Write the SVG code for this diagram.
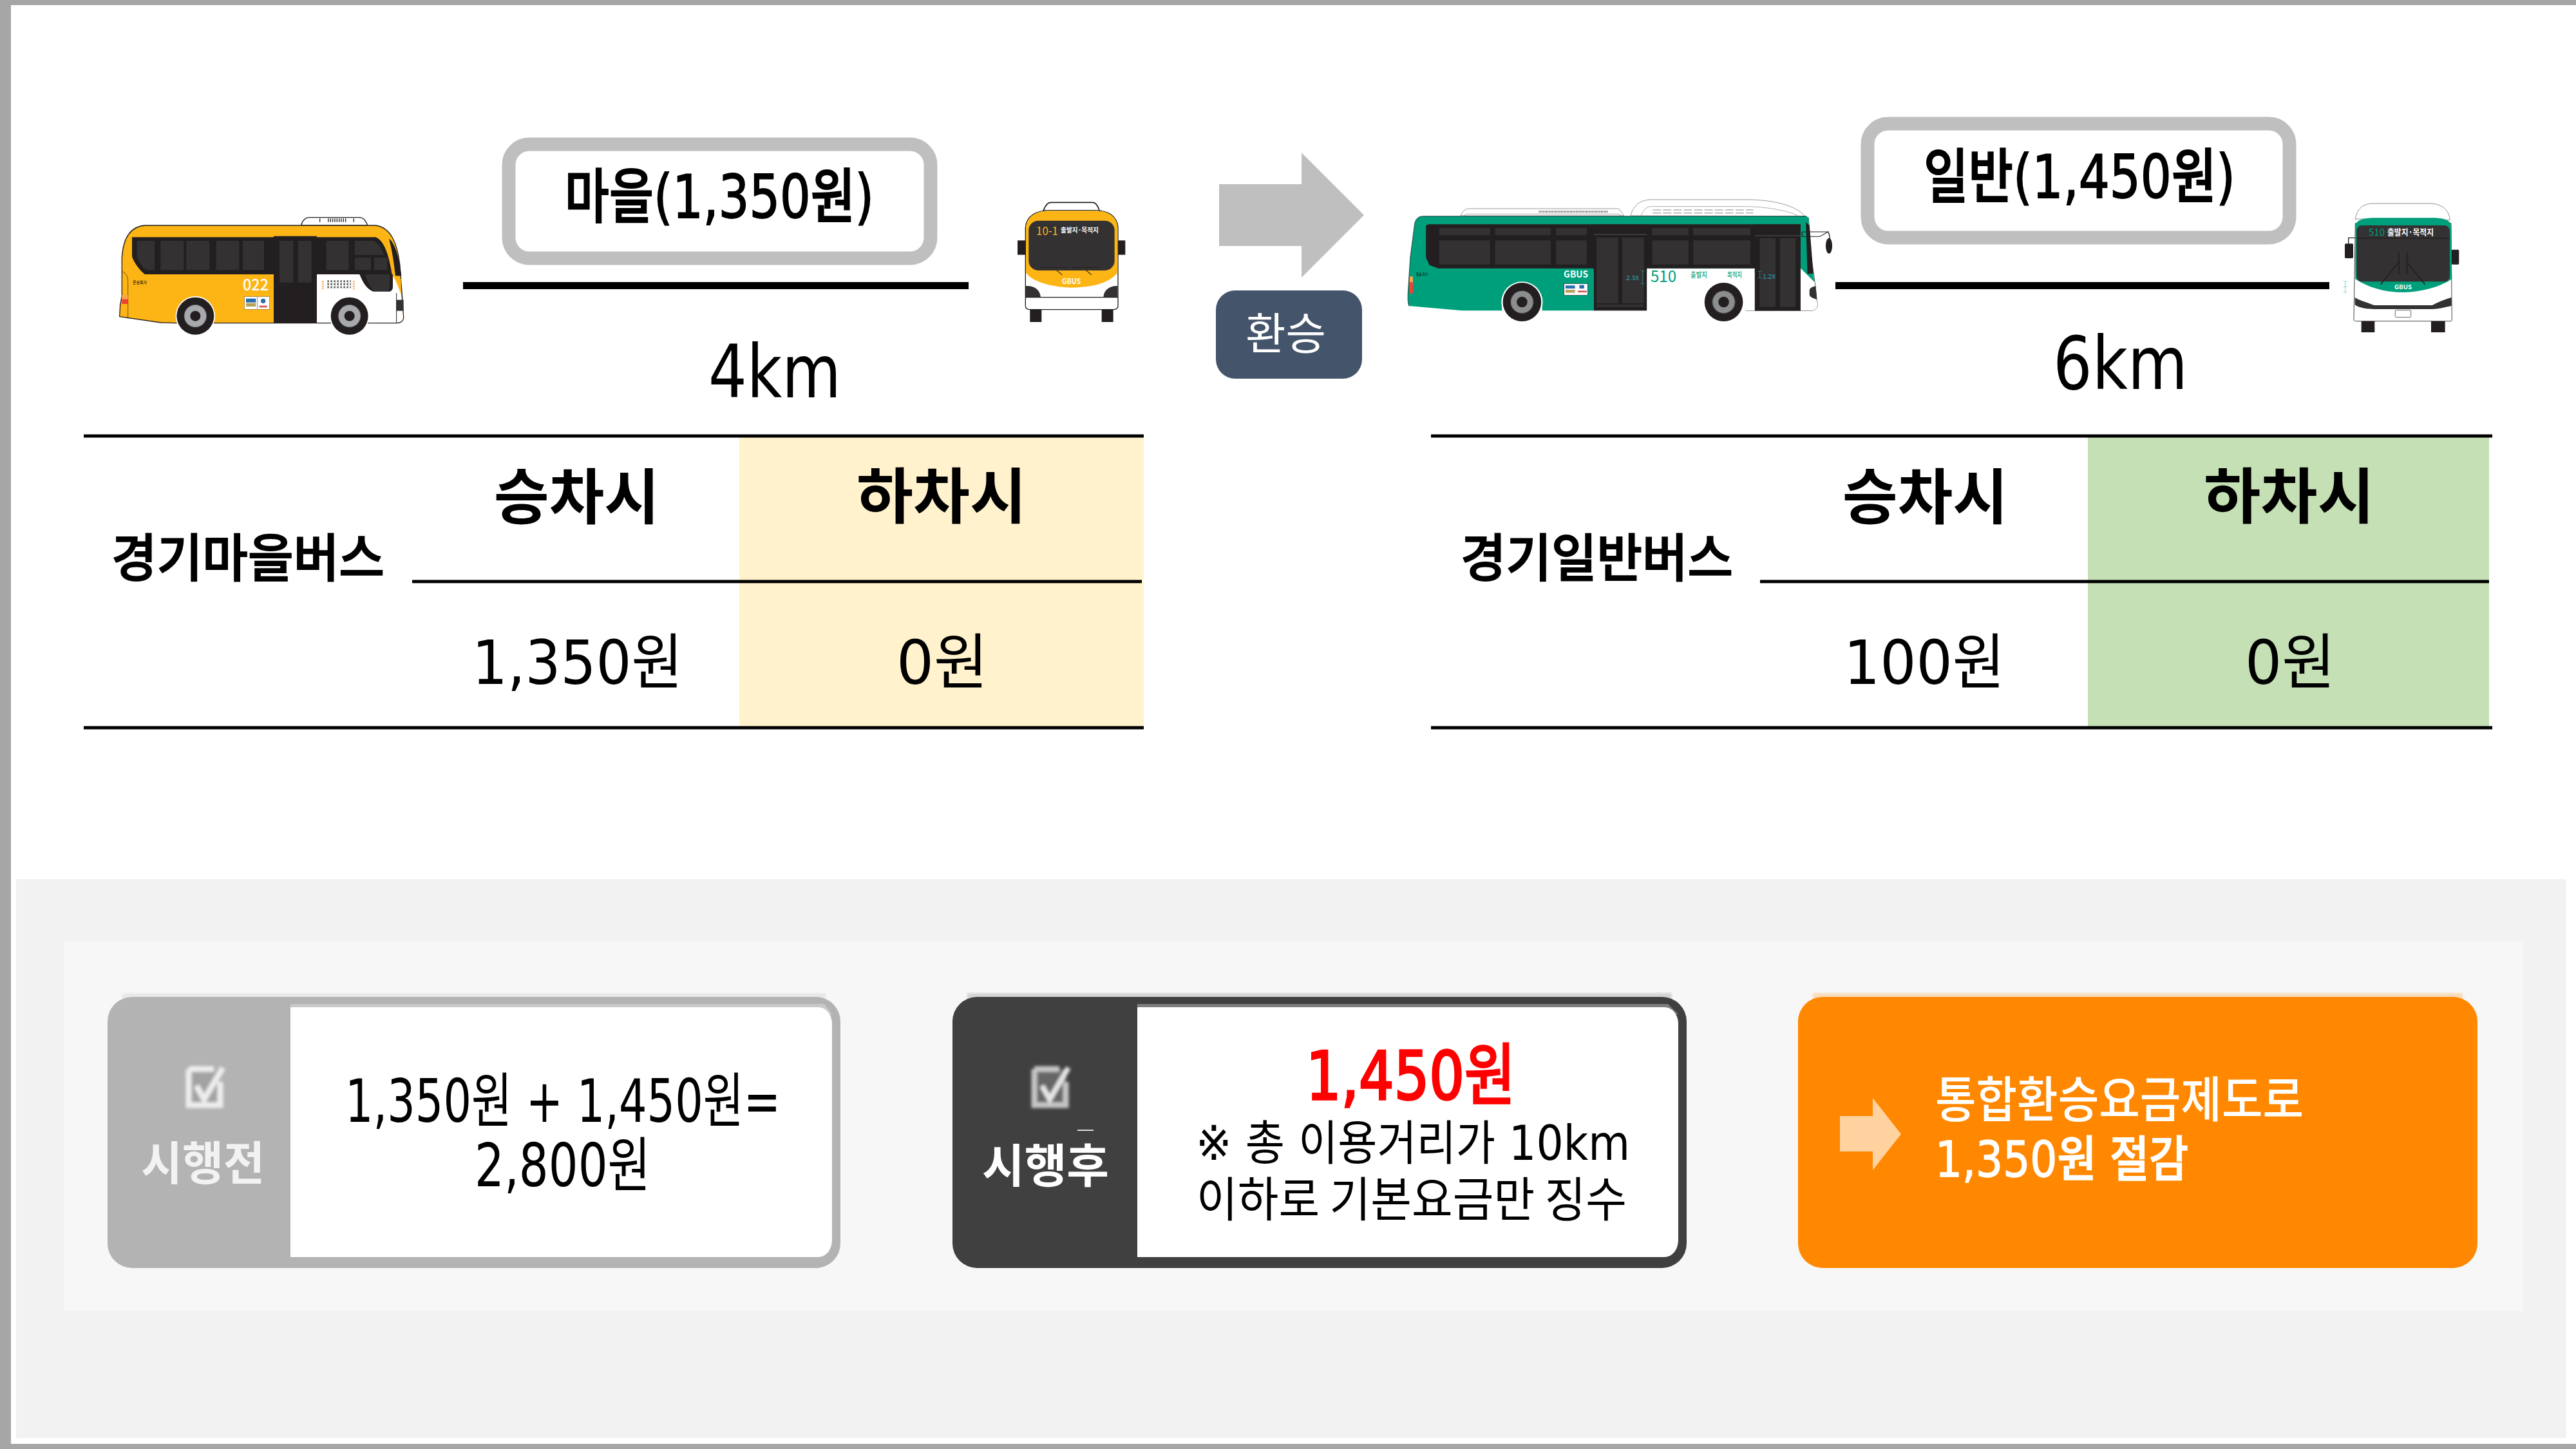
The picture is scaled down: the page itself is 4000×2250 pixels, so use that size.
<svg xmlns="http://www.w3.org/2000/svg" width="4000" height="2250" viewBox="0 0 4000 2250">
<style>
text{font-family:"DejaVu Sans","Noto Sans CJK KR",sans-serif;fill:#000}
.k{font-family:"Noto Sans CJK KR",sans-serif}
.b{font-weight:700}
.m{font-weight:500}
.w{fill:#fff}
.fb{stroke:#000;stroke-width:1.8}
.badge{fill:#fff;stroke:#BFBFBF;stroke-width:21}
.rule{stroke:#000;stroke-width:5;fill:none}
.road{stroke:#000;stroke-width:11;fill:none}
.pane{fill:#333132}
.dark{fill:#231F20}
.o{stroke:#231F20;stroke-width:4;stroke-linejoin:round}
.cy{stroke:#2EA5B5;stroke-width:1.5;fill:none}
</style>
<defs><filter id="soft" x="-20%" y="-20%" width="140%" height="140%"><feGaussianBlur stdDeviation="2"/></filter><filter id="soft2" x="-5%" y="-50%" width="110%" height="200%"><feGaussianBlur stdDeviation="1.500"/></filter></defs>
<rect width="4000" height="2250" fill="#fff"/>
<g id="frame" fill="#A6A6A6"><rect width="4000" height="8"/><rect width="17" height="2250"/><rect y="2242" width="4000" height="8"/></g>
<g id="panel"><rect x="25" y="1365" width="3960" height="868" fill="#F2F2F2"/><rect x="100" y="1462" width="3818" height="574" fill="#F7F7F7"/></g>

<g id="bus-yellow-side" transform="translate(150 300) scale(.33333)">
<path fill="#fff" stroke="#231F20" stroke-width="4" d="M953 150C958 125 975 113 990 113H1225C1245 113 1258 135 1262 150Z"/>
<path d="M1040 118v16M1198 118v16M1080 118v16M1090 118v16M1100 118v16M1110 118v16M1120 118v16M1130 118v16M1140 118v16M1150 118v16M1160 118v16" stroke="#231F20" stroke-width="4"/>
<path class="o" fill="#FDB515" d="M107 575L110 520L118 480V300C125 190 170 152 230 150H1300C1370 160 1400 230 1412 330L1425 500L1430 580C1428 600 1410 605 1395 605H370L300 603L107 575Z"/>
<path fill="#fff" d="M1026 378H1225L1385 385L1418 470L1428 580C1426 598 1410 603 1395 603H1026Z"/>
<path fill="#FDB515" d="M1380 385L1395 385L1418 400V450Z"/>
<rect class="dark" x="825" y="200" width="201" height="405"/>
<path class="dark" d="M165 205H1300C1340 220 1362 290 1376 378H225C200 360 165 310 165 290Z"/>
<path class="dark" d="M1225 378H1380V440C1378 452 1370 458 1360 458H1290C1260 450 1240 415 1225 378Z"/>
<path class="pane" d="M188 222H270V358H232C215 345 188 310 188 290Z"/>
<rect class="pane" x="298" y="222" width="108" height="136"/><rect class="pane" x="418" y="222" width="108" height="136"/>
<rect class="pane" x="557" y="222" width="107" height="136"/><rect class="pane" x="681" y="222" width="99" height="136"/>
<rect class="pane" x="852" y="222" width="64" height="194"/><rect class="pane" x="938" y="222" width="63" height="194"/>
<rect class="pane" x="1070" y="222" width="104" height="136"/>
<path class="pane" d="M1203 222H1290C1315 235 1330 260 1338 288H1203Z"/>
<rect class="pane" x="1203" y="300" width="75" height="58"/><rect class="pane" x="1292" y="300" width="62" height="58"/>
<path class="pane" d="M1250 378H1365V440C1365 450 1358 456 1350 456H1295C1275 445 1262 410 1250 378Z"/>
<path class="dark" d="M1362 212C1385 225 1410 290 1420 385L1392 385C1385 320 1375 260 1362 212Z"/>
<path class="pane" d="M1397 497H1430V548H1397Z"/>
<path d="M1397 465V603" stroke="#231F20" stroke-width="3"/>
<path d="M118 365C135 370 146 385 146 410V585" fill="none" stroke="#231F20" stroke-width="2"/>
<rect x="118" y="474" width="28" height="20" fill="#F9A64A"/><rect x="118" y="494" width="28" height="22" fill="#EF4136"/>
<circle cx="460" cy="572" r="92" fill="#fff"/><circle cx="1178" cy="572" r="92" fill="#fff"/>
<g fill="#231F20"><circle cx="460" cy="572" r="87"/><circle cx="1178" cy="572" r="87"/></g>
<g fill="#A7A9AC" stroke="#58595B" stroke-width="3" stroke-dasharray="12 6"><circle cx="460" cy="572" r="52"/><circle cx="1178" cy="572" r="52"/></g>
<g fill="#231F20"><circle cx="460" cy="572" r="24"/><circle cx="1178" cy="572" r="24"/></g>
<rect x="688" y="481" width="118" height="60" fill="#fff" stroke="#8a6d1d" stroke-width="2"/>
<rect x="696" y="491" width="46" height="18" fill="#2B6CB0"/><rect x="696" y="512" width="46" height="16" fill="#B9A25A"/>
<path d="M749 483V539" stroke="#555" stroke-width="2"/><circle cx="776" cy="502" r="11" fill="#2B6CB0"/><rect x="758" y="524" width="36" height="8" fill="#D9534F"/>
<path d="M1054 408V450M1198 408V450" stroke="#F6B26B" stroke-width="9" stroke-dasharray="5 3"/>
<path d="M1075 410H1185M1075 424H1185M1075 438H1185" stroke="#666" stroke-width="9" stroke-dasharray="8 7"/>
</g>
<text id="t022" class="k m w" x="377" y="451" font-size="25" textLength="40" lengthAdjust="spacingAndGlyphs">022</text>
<text class="k" x="206" y="441" font-size="7" textLength="22" lengthAdjust="spacingAndGlyphs">운송회사</text>

<g id="bus-yellow-front" transform="translate(1560 290) scale(.33333)">
<path fill="#fff" stroke="#231F20" stroke-width="5" d="M180 112C190 85 200 73 215 73H410C425 73 435 90 442 112Z"/>
<rect class="dark" x="118" y="565" width="54" height="65"/><rect class="dark" x="452" y="565" width="54" height="65"/>
<rect class="dark" x="60" y="250" width="40" height="67"/><rect class="dark" x="525" y="250" width="37" height="67"/>
<path fill="#fff" stroke="#231F20" stroke-width="4" d="M97 190C100 135 150 110 210 110H420C480 110 525 135 528 190V555C528 565 520 572 510 572H115C105 572 97 565 97 555Z"/>
<path fill="#FDB515" d="M99 400V190C102 137 150 112 210 112H420C480 112 523 137 526 190V400C490 450 400 470 310 470C250 470 130 450 99 400Z"/>
<rect class="pane" x="112" y="158" width="400" height="232" rx="45"/>
<path class="pane" d="M99 462C140 460 165 480 168 515H99ZM526 462C490 460 462 480 460 515H526Z"/>
<path d="M97 515H528" stroke="#231F20" stroke-width="4"/>
<path d="M168 376H295M310 376H435" stroke="#231F20" stroke-width="3"/>
<path d="M228 378L268 410M365 378L405 410" stroke="#4a3a10" stroke-width="4"/>
</g>
<text class="k" x="1609" y="365" font-size="18" style="fill:#FDB515" textLength="34" lengthAdjust="spacingAndGlyphs">10-1</text>
<text class="k b w" x="1647" y="361" font-size="10" textLength="59" lengthAdjust="spacingAndGlyphs">출발지·목적지</text>
<text class="k b w" x="1649" y="441" font-size="11" textLength="29" lengthAdjust="spacingAndGlyphs">GBUS</text>

<g id="bus-green-side" transform="translate(2160 290) scale(.45918 .33333)">
<path fill="#fff" stroke="#555" stroke-width="1.500" d="M235 135C245 105 255 102 265 102H770L788 135Z"/>
<path fill="none" stroke="#777" stroke-width="1.500" d="M245 135L255 127H770L780 135"/>
<path stroke="#444" stroke-width="10" stroke-dasharray="2 3" d="M500 116H735"/>
<path fill="#fff" stroke="#555" stroke-width="1.500" d="M810 135C820 80 850 60 880 60H1200C1300 60 1370 90 1400 137Z"/>
<path fill="none" stroke="#777" stroke-width="1.500" d="M845 135C855 105 865 92 880 92H1210C1280 95 1350 115 1375 135"/>
<path stroke="#888" stroke-width="3" stroke-dasharray="28 7" d="M885 108H1225M885 122H1225"/>
<path fill="#fff" stroke="#231F20" stroke-width="2" d="M1390 137L1412 145L1420 320L1432 430L1442 550C1442 570 1430 577 1420 577H1200V380H1390Z"/>
<path fill="#009F7B" d="M57 500L65 330L80 170C85 145 95 137 110 137H1405L1412 145L1418 320L1432 445L1385 380V400H685V577H240L60 555L57 530Z"/>
<path fill="none" stroke="#231F20" stroke-width="2" d="M60 555L57 530V500L65 330L80 170C85 145 95 137 110 137H1405"/>
<rect fill="#fff" x="865" y="380" width="365" height="197"/>
<path fill="#fff" d="M1385 380L1432 445L1442 550C1442 570 1430 577 1420 577H1385Z"/>
<path class="dark" d="M118 185C118 178 125 175 130 175H1385V380H160L130 365L118 330Z"/>
<rect class="dark" x="685" y="175" width="180" height="402"/><rect class="dark" x="1230" y="175" width="155" height="402"/>
<g class="pane">
<rect x="163" y="192" width="172" height="34"/><rect x="352" y="192" width="188" height="34"/><rect x="558" y="192" width="104" height="34"/><rect x="883" y="192" width="123" height="34"/><rect x="1022" y="192" width="193" height="34"/>
<rect x="163" y="250" width="172" height="112"/><rect x="352" y="250" width="188" height="112"/><rect x="558" y="250" width="104" height="112"/><rect x="883" y="250" width="123" height="112"/><rect x="1022" y="250" width="193" height="112"/>
<rect x="695" y="237" width="73" height="306"/><rect x="782" y="237" width="73" height="306"/><rect x="695" y="548" width="160" height="12"/>
<rect x="1247" y="240" width="53" height="320"/><rect x="1315" y="240" width="53" height="320"/>
</g>
<path d="M685 222H865M1230 228H1385" stroke="#555" stroke-width="3"/>
<path class="dark" d="M1403 165L1415 180L1428 405H1408Z"/>
<path fill="none" stroke="#231F20" stroke-width="3" d="M1390 210H1478L1450 232H1390V210M1478 210C1485 225 1485 250 1485 270"/>
<ellipse class="dark" cx="1481" cy="275" rx="11" ry="36"/>
<path class="pane" d="M1415 480C1420 465 1432 465 1436 462L1440 525C1428 520 1418 515 1415 505Z"/>
<rect x="63" y="418" width="11" height="27" fill="#F9A64A"/><rect x="63" y="445" width="11" height="52" fill="#EF4136"/>
<g fill="#fff"><ellipse cx="443" cy="537" rx="70" ry="95"/><ellipse cx="1125" cy="537" rx="70" ry="95"/></g>
<g fill="#fff"><rect x="375" y="540" width="136" height="37"/><rect x="1055" y="540" width="140" height="37"/></g>
<g fill="#231F20"><ellipse cx="443" cy="537" rx="65" ry="90"/><ellipse cx="1125" cy="537" rx="65" ry="90"/></g>
<g fill="#8C8D8F" stroke="#58595B" stroke-width="3" stroke-dasharray="10 5"><ellipse cx="443" cy="537" rx="38" ry="52"/><ellipse cx="1125" cy="537" rx="38" ry="52"/></g>
<g fill="#231F20"><ellipse cx="443" cy="537" rx="18" ry="25"/><ellipse cx="1125" cy="537" rx="18" ry="25"/></g>
<rect x="585" y="452" width="80" height="53" fill="#fff" stroke="#231F20" stroke-width="1.500"/>
<rect x="590" y="460" width="32" height="14" fill="#2B6CB0"/><rect x="590" y="480" width="32" height="14" fill="#B9A25A"/><rect x="637" y="458" width="16" height="16" fill="#2B6CB0"/><rect x="632" y="484" width="30" height="8" fill="#D9534F"/>
<path class="cy" d="M845 392H858M851 392V452M845 452H858M1240 394H1254M1247 394V425M1240 425H1254"/>
</g>
<text class="k b w" x="2428" y="431" font-size="14" textLength="38" lengthAdjust="spacingAndGlyphs">GBUS</text>
<text class="k" x="2199" y="428" font-size="6" textLength="18" lengthAdjust="spacingAndGlyphs">운송 회사</text>
<text class="k" x="2563" y="438" font-size="25" style="fill:#009F7B" textLength="40" lengthAdjust="spacingAndGlyphs">510</text>
<text class="k m" x="2625" y="431" font-size="11" style="fill:#009F7B" textLength="26" lengthAdjust="spacingAndGlyphs">출발지</text>
<text class="k m" x="2682" y="431" font-size="11" style="fill:#009F7B" textLength="23" lengthAdjust="spacingAndGlyphs">목적지</text>
<text class="k" x="2525" y="435" font-size="9" style="fill:#2EA5B5" textLength="20" lengthAdjust="spacingAndGlyphs">2.3X</text>
<text class="k" x="2737" y="433" font-size="9" style="fill:#2EA5B5" textLength="20" lengthAdjust="spacingAndGlyphs">1.2X</text>

<g id="bus-green-front" transform="translate(3600 290) scale(.33333)">
<rect class="dark" x="200" y="620" width="62" height="58"/><rect class="dark" x="525" y="620" width="65" height="58"/>
<path fill="none" stroke="#231F20" stroke-width="4" d="M140 265V238H172"/>
<rect class="dark" x="123" y="265" width="39" height="68" rx="5"/><rect class="dark" x="620" y="293" width="35" height="69" rx="5"/>
<path fill="#fff" stroke="#555" stroke-width="2" d="M172 150C180 100 210 80 250 78H530C590 85 610 120 613 155Z"/>
<path fill="#fff" stroke="#444" stroke-width="3" d="M172 170L165 620C165 624 168 626 172 626H618C620 626 622 624 622 620L618 170Z"/>
<path fill="#009F7B" d="M172 430V180C178 155 210 145 260 145H530C570 145 612 150 618 180L622 430C560 470 480 490 395 492C330 492 250 480 172 430Z"/>
<rect class="pane" x="178" y="180" width="434" height="262" rx="25"/>
<path d="M178 240H612" stroke="#231F20" stroke-width="4"/>
<path class="pane" d="M170 515C190 530 220 535 260 552H530C560 535 590 525 620 515V555C590 560 560 570 530 570H260C230 570 190 565 170 550Z"/>
<rect x="358" y="575" width="73" height="33" rx="4" fill="#fff" stroke="#666" stroke-width="3"/>
<path d="M375 305V405M413 305V405M370 355L290 455M415 355L497 455" stroke="#231F20" stroke-width="5" fill="none"/>
<path class="cy" d="M116 441H134M125 441V492M116 492H134M116 466H134" stroke-width="2"/>
</g>
<text class="k" x="3678" y="366" font-size="15" style="fill:#009F7B" textLength="25" lengthAdjust="spacingAndGlyphs">510</text>
<text class="k b w" x="3707" y="365" font-size="13" textLength="72" lengthAdjust="spacingAndGlyphs">출발지·목적지</text>
<text class="k b w" x="3718" y="449" font-size="9" textLength="27" lengthAdjust="spacingAndGlyphs">GBUS</text>

<g id="badge-maeul"><rect class="badge" x="790" y="224" width="655" height="177" rx="32"/>
<text class="m fb" x="877" y="338" font-size="92" textLength="480" lengthAdjust="spacingAndGlyphs">마을(1,350원)</text></g>
<g id="badge-ilban"><rect class="badge" x="2900" y="192" width="655" height="177" rx="32"/>
<text class="m fb" x="2987" y="307" font-size="92" textLength="484" lengthAdjust="spacingAndGlyphs">일반(1,450원)</text></g>

<g id="connectors">
<path class="road" d="M719 443.500H1504"/>
<path class="road" d="M2850 443.500H3617"/>
</g>
<text id="dist-4km" x="1100" y="617" font-size="114" textLength="206" lengthAdjust="spacingAndGlyphs">4km</text>
<text id="dist-6km" x="3188" y="604" font-size="114" textLength="209" lengthAdjust="spacingAndGlyphs">6km</text>

<g id="transfer">
<path fill="#BFBFBF" d="M1893 286H2021V237L2118 334L2021 431V382H1893Z"/>
<rect x="1888" y="451" width="227" height="137" rx="30" fill="#44546A"/>
<text class="k w" x="1934" y="543" font-size="68" textLength="125" lengthAdjust="spacingAndGlyphs">환승</text>
</g>

<g id="table-left">
<rect x="1148" y="677" width="628" height="453" fill="#FFF2CC"/>
<path class="rule" d="M130 677H1776M640 903H1773M130 1130H1776"/>
<text class="m k fb" x="173" y="895" font-size="80" textLength="424" lengthAdjust="spacingAndGlyphs">경기마을버스</text>
<text class="b k" x="767" y="806" font-size="94" textLength="257" lengthAdjust="spacingAndGlyphs">승차시</text>
<text class="b k" x="1330" y="805" font-size="94" textLength="264" lengthAdjust="spacingAndGlyphs">하차시</text>
<text x="733" y="1062" font-size="94" textLength="327" lengthAdjust="spacingAndGlyphs">1,350원</text>
<text x="1392" y="1062" font-size="94" textLength="142" lengthAdjust="spacingAndGlyphs">0원</text>
</g>
<g id="table-right">
<rect x="3242" y="677" width="623" height="453" fill="#C5E0B4"/>
<path class="rule" d="M2222 677H3870M2733 903H3865M2222 1130H3870"/>
<text class="m k fb" x="2268" y="895" font-size="80" textLength="423" lengthAdjust="spacingAndGlyphs">경기일반버스</text>
<text class="b k" x="2861" y="806" font-size="94" textLength="257" lengthAdjust="spacingAndGlyphs">승차시</text>
<text class="b k" x="3422" y="805" font-size="94" textLength="265" lengthAdjust="spacingAndGlyphs">하차시</text>
<text x="2863" y="1062" font-size="94" textLength="250" lengthAdjust="spacingAndGlyphs">100원</text>
<text x="3486" y="1062" font-size="94" textLength="140" lengthAdjust="spacingAndGlyphs">0원</text>
</g>

<g id="card-before">
<rect x="190" y="1542" width="1092" height="20" fill="#E8E8E8" filter="url(#soft2)"/>
<rect x="167" y="1548" width="1138" height="421" rx="38" fill="#B3B3B3"/>
<path fill="#C9C9C9" d="M451 1559H1280L1292 1575H451Z"/>
<path fill="#fff" d="M451 1564H1270C1283 1564 1292 1576 1292 1590V1925C1292 1940 1283 1952 1270 1952H451Z"/>
<g filter="url(#soft)">
<rect x="295" y="1664" width="42" height="50" fill="#8f8f8f" opacity=".45"/>
<path fill="none" stroke="#EDEDED" stroke-width="9" d="M293 1660H332M293 1660V1716H342V1680"/><path fill="none" stroke="#EDEDED" stroke-width="9" d="M305 1686L317 1707L346 1658"/>
</g>
<text class="b k" x="219" y="1832" font-size="72" style="fill:#F2F2F2" textLength="192" lengthAdjust="spacingAndGlyphs">시행전</text>
<text x="536" y="1742" font-size="92" textLength="676" lengthAdjust="spacingAndGlyphs">1,350원 + 1,450원=</text>
<text x="737" y="1842" font-size="92" textLength="273" lengthAdjust="spacingAndGlyphs">2,800원</text>
</g>
<g id="card-after">
<rect x="1502" y="1542" width="1094" height="20" fill="#D4D4D4" filter="url(#soft2)"/>
<rect x="1479" y="1548" width="1140" height="421" rx="38" fill="#404040"/>
<path fill="#7F7F7F" d="M1766 1559H2590L2606 1575H1766Z"/>
<path fill="#fff" d="M1766 1564H2584C2597 1564 2606 1576 2606 1590V1925C2606 1940 2597 1952 2584 1952H1766Z"/>
<g filter="url(#soft)">
<rect x="1606" y="1660" width="50" height="58" fill="#666"/>
<path fill="none" stroke="#C4C4C4" stroke-width="9" d="M1606 1660H1645M1606 1660V1716H1655V1680"/><path fill="none" stroke="#E6E6E6" stroke-width="8" d="M1618 1686L1630 1707L1659 1658"/>
</g>
<rect x="1673" y="1754" width="25" height="2" fill="#DDD"/>
<text class="b k" x="1525" y="1836" font-size="72" style="fill:#fff" textLength="197" lengthAdjust="spacingAndGlyphs">시행후</text>
<text class="fb" x="2028" y="1707" font-size="104" style="fill:#FF0000;stroke:#FF0000;stroke-width:3.500" textLength="325" lengthAdjust="spacingAndGlyphs">1,450원</text>
<text x="1857" y="1801" font-size="74" textLength="674" lengthAdjust="spacingAndGlyphs">※ 총 이용거리가 10km</text>
<text class="k" x="1858" y="1889" font-size="74" textLength="668" lengthAdjust="spacingAndGlyphs">이하로 기본요금만 징수</text>
</g>
<g id="card-result">
<rect x="2815" y="1542" width="1009" height="20" fill="#F8DDBD" filter="url(#soft2)"/>
<rect x="2792" y="1548" width="1055" height="421" rx="38" fill="#FF8800"/>
<path fill="#FFD2A0" d="M2857 1733H2908V1705L2952 1761L2908 1817V1788H2857Z"/>
<text class="k m w" x="3005" y="1735" font-size="76" textLength="572" lengthAdjust="spacingAndGlyphs">통합환승요금제도로</text>
<text class="m w" x="3005" y="1827" font-size="76" textLength="393" lengthAdjust="spacingAndGlyphs" style="stroke:#fff;stroke-width:1.500">1,350원 절감</text>
</g>
</svg>
